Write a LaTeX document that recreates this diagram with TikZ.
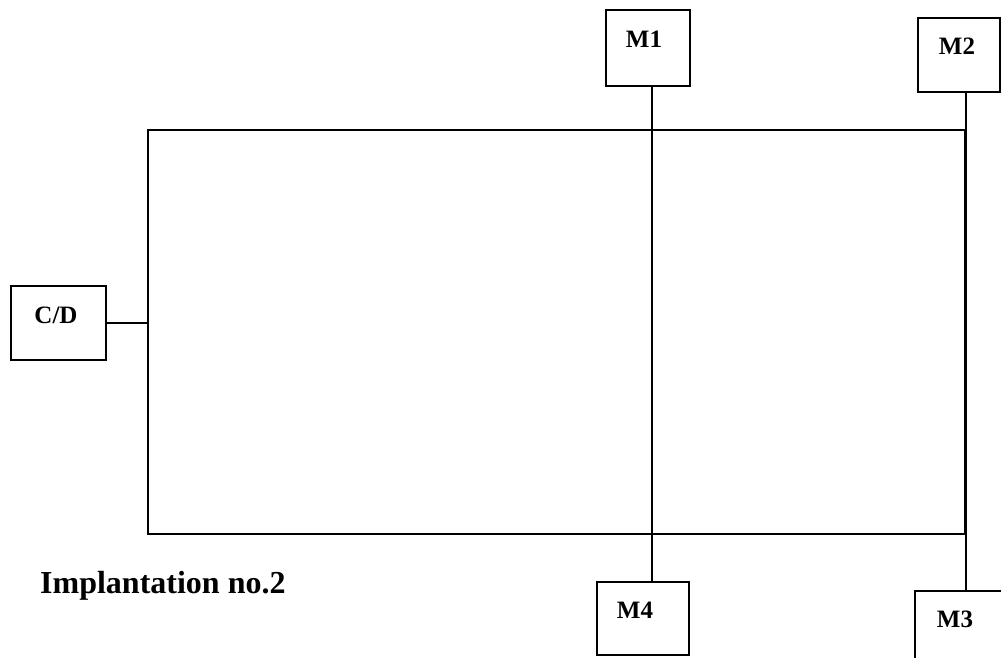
\documentclass[tikz,border=0pt]{standalone}
\usepackage{fontspec}
\setmainfont{Liberation Serif}
\begin{document}
\begin{tikzpicture}[x=1pt,y=-1pt,
  box/.style={draw, line width=1.6pt, inner sep=0pt, outer sep=0pt},
  lab/.style={font=\bfseries\fontsize{25}{30}\selectfont, inner sep=0pt, anchor=base},
  wire/.style={line width=1.6pt},
  bus/.style={line width=2.6pt}]
\useasboundingbox (0,0) rectangle (1001,657);
\clip (0,0) rectangle (1001,657);
% boxes
\node[box, minimum width=817pt, minimum height=404pt] (main) at (556.5,332) {};
\node[box, minimum width=95pt, minimum height=74pt] (cd) at (58.5,323) {};
\node[box, minimum width=84pt, minimum height=76pt] (m1) at (648,48) {};
\node[box, minimum width=82pt, minimum height=74pt] (m2) at (959,55) {};
\node[box, minimum width=95pt, minimum height=79pt] (m3) at (962.5,630.5) {};
\node[box, minimum width=92pt, minimum height=73pt] (m4) at (643,618.5) {};
% texts
\node[lab] (tcd) at (56,323) {C/D};
\node[lab] (tm1) at (644,47) {M1};
\node[lab] (tm2) at (957,54) {M2};
\node[lab] (tm3) at (955,627) {M3};
\node[lab] (tm4) at (635,618) {M4};
\node[font=\bfseries\fontsize{32}{38}\selectfont, inner sep=0pt, anchor=base west] (title) at (40,593) {Implantation no.2};
% connectors
\coordinate (v1) at (652,0);
\coordinate (v2) at (966,0);
\draw[wire] (cd.east) -- (cd.east -| main.west);
\draw[wire] (m1.south -| v1) -- (m4.north -| v1);
\draw[bus] (m2.south -| v2) -- (m3.north -| v2);
\end{tikzpicture}
\end{document}
